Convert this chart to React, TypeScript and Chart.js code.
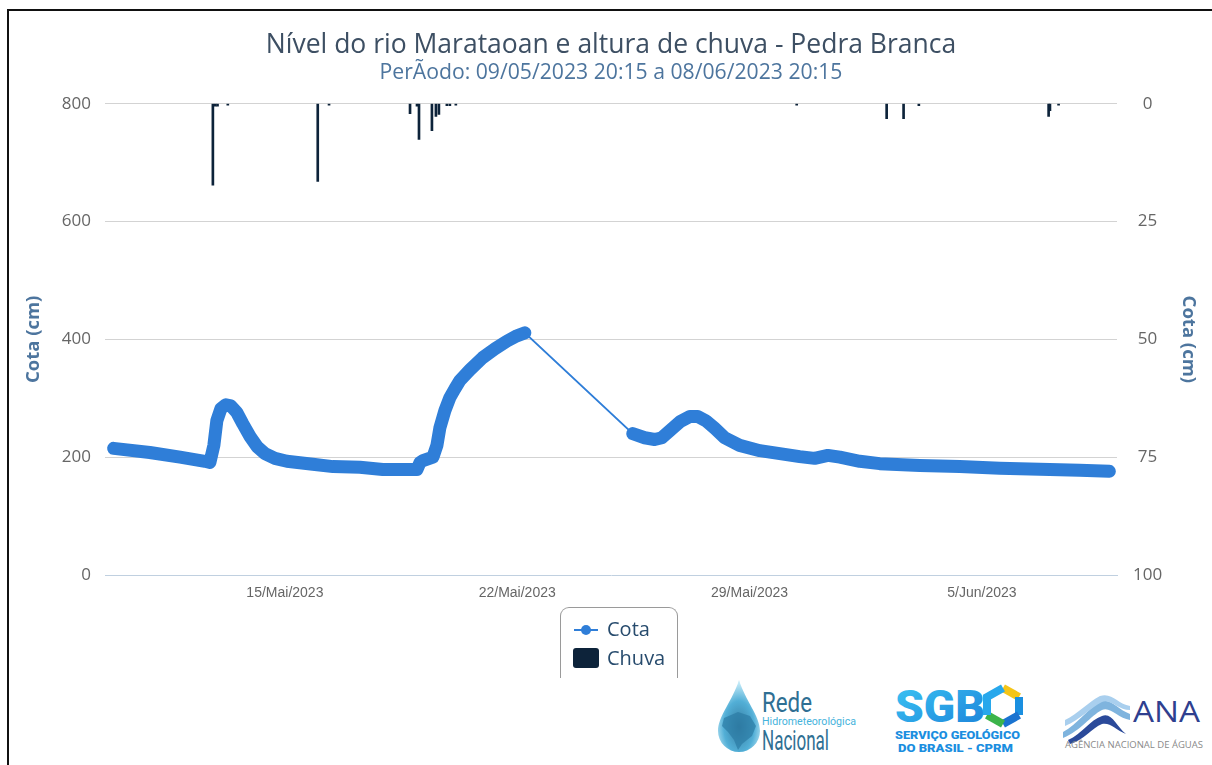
import { useEffect, useRef } from "react";
import { Chart, registerables } from "chart.js";

Chart.register(...registerables);

// Time axis expressed as days counted from 1 May 2023 (so 5 Jun = 36)
const cotaDays = [
  9.84, 10.93, 11.84, 12.59, 12.74, 12.86, 12.95, 13.07, 13.22, 13.37, 13.55, 13.73, 13.95,
  14.16, 14.4, 14.7, 15.06, 15.84, 16.45, 17.26, 17.95, 18.98, 19.07, 19.16, 19.46, 19.58,
  19.67, 19.82, 19.97, 20.12, 20.27, 20.57, 20.96, 21.33, 21.69, 21.99, 22.23,
  25.48, 25.84, 26.14, 26.36, 26.6, 26.9, 27.2, 27.44, 27.68, 27.95, 28.25, 28.7, 29.31,
  30.51, 30.96, 31.36, 31.72, 32.32, 32.92, 34.13, 35.33, 36.54, 38.04, 38.94, 39.84,
];
const cotaValues = [
  215, 208, 200, 193, 191, 220, 262, 282, 289, 287, 276, 257, 235,
  218, 206, 198, 193, 188, 184, 183, 179, 179, 191, 194, 200, 220,
  250, 279, 301, 316, 330, 348, 369, 384, 397, 406, 411,
  240, 233, 230, 233, 245, 260, 269, 269, 262, 249, 233, 220, 211,
  201, 198, 203, 200, 193, 189, 186, 184, 181, 179, 178, 176,
];

const chuvaDays = [
  12.83, 12.9, 12.97, 13.28, 15.99, 16.33, 18.77, 18.98, 19.04, 19.43, 19.55, 19.64,
  19.88, 19.97, 20.15, 30.42, 33.13, 33.64, 34.1, 38.01, 38.05, 38.31,
];
const chuvaValues = [
  17.3, 0.5, 0.5, 0.3, 16.5, 0.3, 2.1, 0.5, 7.6, 5.7, 2.7, 2.3,
  0.4, 0.4, 0.3, 0.3, 3.2, 3.2, 0.4, 2.7, 1.5, 0.3,
];

const xTickDays = [15, 22, 29, 36];
const xTickLabels = ["15/Mai/2023", "22/Mai/2023", "29/Mai/2023", "5/Jun/2023"];
const leftTicks = [0, 200, 400, 600, 800];
const rightTicks = [0, 25, 50, 75, 100];

const titleText = "Nível do rio Marataoan e altura de chuva - Pedra Branca";
const subtitleText = "PerÃodo: 09/05/2023 20:15 a 08/06/2023 20:15";

const COTA_COLOR = "#2f7ed8";
const CHUVA_COLOR = "#0d233a";

function ChartCanvas() {
  const ref = useRef<HTMLCanvasElement | null>(null);
  useEffect(() => {
    if (!ref.current) return;
    const chart = new Chart(ref.current, {
      type: "line",
      data: {
        datasets: [
          {
            type: "line",
            label: "Cota",
            data: cotaDays.map((d, i) => ({ x: d, y: cotaValues[i] })),
            borderColor: COTA_COLOR,
            backgroundColor: COTA_COLOR,
            borderWidth: 13,
            borderCapStyle: "round",
            borderJoinStyle: "round",
            pointRadius: 0,
            tension: 0,
            yAxisID: "y",
            order: 1,
            segment: {
              borderWidth: (ctx: any) => (ctx.p1.parsed.x - ctx.p0.parsed.x > 1.5 ? 2 : 13),
            },
          } as any,
          {
            type: "bar",
            label: "Chuva",
            data: chuvaDays.map((d, i) => ({ x: d, y: chuvaValues[i] })),
            backgroundColor: CHUVA_COLOR,
            barThickness: 2,
            yAxisID: "y2",
            order: 2,
          } as any,
        ],
      },
      options: {
        animation: false,
        responsive: false,
        devicePixelRatio: 1,
        layout: { padding: { left: 10, right: 0, top: 18, bottom: 20 } },
        plugins: {
          legend: { display: false },
          tooltip: { enabled: false },
          title: {
            display: true,
            text: titleText,
            color: "#3d4f63",
            font: { family: "Open Sans", size: 26.5, weight: "normal", lineHeight: 1 },
            padding: { top: 14, bottom: 0 },
          },
          subtitle: {
            display: true,
            text: subtitleText,
            color: "#4d759e",
            font: { family: "Open Sans", size: 21.2, weight: "normal", lineHeight: 1 },
            padding: { top: 4, bottom: 20 },
          },
        },
        scales: {
          x: {
            type: "linear",
            min: 9.58,
            max: 40.07,
            offset: false,
            grid: { display: false, drawTicks: false },
            border: { display: true, color: "#c0d0e0", width: 1 },
            afterBuildTicks: (s: any) => {
              s.ticks = xTickDays.map((v) => ({ value: v }));
            },
            afterFit: (s: any) => {
              s.height = 45;
            },
            ticks: {
              autoSkip: false,
              maxRotation: 0,
              padding: 10,
              color: "#666666",
              font: { family: "Liberation Sans", size: 14 },
              callback: (v: any) => {
                const i = xTickDays.indexOf(Number(v));
                return i >= 0 ? xTickLabels[i] : "";
              },
            },
          },
          y: {
            type: "linear",
            position: "left",
            min: 0,
            max: 800,
            afterBuildTicks: (s: any) => {
              s.ticks = leftTicks.map((v) => ({ value: v }));
            },
            afterFit: (s: any) => {
              s.width = 95;
            },
            grid: {
              color: (ctx: any) => (ctx.tick && ctx.tick.value === 0 ? "rgba(0,0,0,0)" : "#d3d3d3"),
              drawTicks: false,
              lineWidth: 1,
            },
            border: { display: false },
            ticks: {
              padding: 14,
              color: "#666666",
              font: { family: "Open Sans", size: 17 },
            },
            title: {
              display: true,
              text: "Cota (cm)",
              color: "#4d759e",
              font: { family: "Open Sans", size: 18.5, weight: "bold" },
              padding: { top: 13, bottom: 0 },
            },
          },
          y2: {
            type: "linear",
            position: "right",
            reverse: true,
            min: 0,
            max: 100,
            afterBuildTicks: (s: any) => {
              s.ticks = rightTicks.map((v) => ({ value: v }));
            },
            afterFit: (s: any) => {
              s.width = 95;
            },
            grid: { display: false, drawTicks: false },
            border: { display: false },
            ticks: {
              padding: 16,
              crossAlign: "center",
              color: "#666666",
              font: { family: "Open Sans", size: 17 },
            },
            title: {
              display: true,
              text: "Cota (cm)",
              color: "#4d759e",
              font: { family: "Open Sans", size: 18.5, weight: "bold" },
              padding: { top: 13, bottom: 0 },
            },
          },
        },
      } as any,
    });
    return () => chart.destroy();
  }, []);
  return (
    <canvas
      ref={ref}
      width={1212}
      height={640}
      style={{ position: "absolute", left: 0, top: 0, width: 1212, height: 640 }}
    />
  );
}

function Legend() {
  return (
    <div
      style={{
        position: "absolute",
        left: 560,
        top: 607,
        width: 116,
        height: 70,
        border: "1px solid #9a9a9a",
        borderBottom: "none",
        borderRadius: "9px 9px 0 0",
        fontFamily: "Open Sans",
        color: "#274b6d",
        fontSize: 20,
      }}
    >
      <div style={{ position: "absolute", left: 13, top: 21, width: 24, height: 2, background: COTA_COLOR }} />
      <div
        style={{
          position: "absolute",
          left: 20,
          top: 17,
          width: 10,
          height: 10,
          borderRadius: 5,
          background: COTA_COLOR,
        }}
      />
      <div style={{ position: "absolute", left: 46, top: 8, lineHeight: "26px" }}>Cota</div>
      <div
        style={{
          position: "absolute",
          left: 12,
          top: 40,
          width: 26,
          height: 20,
          borderRadius: 3,
          background: CHUVA_COLOR,
        }}
      />
      <div style={{ position: "absolute", left: 46, top: 37, lineHeight: "26px" }}>Chuva</div>
    </div>
  );
}

function Logos() {
  return (
    <>
      <svg width={150} height={82} style={{ position: "absolute", left: 712, top: 678 }}>
        <defs>
          <radialGradient id="dropg" cx="50%" cy="65%" r="60%">
            <stop offset="0" stopColor="#1f6d96" />
            <stop offset="0.6" stopColor="#3fa6d2" />
            <stop offset="1" stopColor="#b9e6f6" />
          </radialGradient>
        </defs>
        <path d="M27 2 C 21 22, 6 38, 6 53 A 21 21 0 0 0 48 53 C 48 38, 33 22, 27 2 Z" fill="url(#dropg)" opacity="0.9" />
        <path d="M12 40 L26 34 L38 38 L44 48 L40 58 L30 66 L26 72 L22 62 L16 54 L10 48 Z" fill="#2b7aa4" opacity="0.7" />
        <text x={50} y={34} fontSize={28} fill="#2f6f93" fontFamily="Roboto" textLength={50} lengthAdjust="spacingAndGlyphs">
          Rede
        </text>
        <text x={50} y={47} fontSize={11} fill="#45b3dc" fontFamily="Roboto" textLength={94} lengthAdjust="spacingAndGlyphs">
          Hidrometeorológica
        </text>
        <text x={50} y={72} fontSize={28} fill="#2f6f93" fontFamily="Roboto" textLength={67} lengthAdjust="spacingAndGlyphs">
          Nacional
        </text>
      </svg>
      <svg width={140} height={80} style={{ position: "absolute", left: 890, top: 680 }}>
        <defs>
          <linearGradient id="sgbg" x1="0" y1="0" x2="1" y2="1">
            <stop offset="0" stopColor="#3cc6f4" />
            <stop offset="1" stopColor="#1a7fd8" />
          </linearGradient>
        </defs>
        <text x={5} y={42} fontSize={44} fontWeight={900} fill="url(#sgbg)" fontFamily="Roboto" textLength={90} lengthAdjust="spacingAndGlyphs">
          SGB
        </text>
        <path d="M113 8 L129 17" stroke="#f5c518" strokeWidth={8} fill="none" />
        <path d="M129 17 L129 35" stroke="#1a8fe0" strokeWidth={8} fill="none" />
        <path d="M129 35 L113 44" stroke="#1a73d0" strokeWidth={8} fill="none" />
        <path d="M113 44 L97 35" stroke="#3cb44a" strokeWidth={8} fill="none" />
        <path d="M97 35 L97 17 L113 8" stroke="#28a8ec" strokeWidth={8} fill="none" />
        <text x={5} y={59} fontSize={11} fontWeight={900} fill="#1a8ee0" fontFamily="Roboto" textLength={125} lengthAdjust="spacingAndGlyphs">
          SERVIÇO GEOLÓGICO
        </text>
        <text x={8} y={72} fontSize={11} fontWeight={900} fill="#1a8ee0" fontFamily="Roboto" textLength={115} lengthAdjust="spacingAndGlyphs">
          DO BRASIL - CPRM
        </text>
      </svg>
      <svg width={150} height={70} style={{ position: "absolute", left: 1060, top: 690 }}>
        <path d="M3 42 C 18 34, 26 20, 40 12 C 50 7, 58 20, 70 24 L70 30 C 58 28, 50 16, 42 20 C 30 26, 22 40, 3 48 Z" fill="#7fb4de" />
        <path d="M5 30 C 18 24, 28 12, 40 6 C 52 2, 58 14, 70 16 L70 20 C 58 20, 50 8, 42 12 C 30 18, 20 30, 5 36 Z" fill="#a9cfee" />
        <path d="M8 50 C 22 44, 30 30, 42 26 C 52 22, 56 36, 66 44 C 56 40, 50 32, 42 34 C 32 38, 24 50, 10 54 Z" fill="#2b4a9a" />
        <text x={73} y={32} fontSize={30} fill="#2f3f8f" fontFamily="Open Sans" textLength={67} lengthAdjust="spacingAndGlyphs">
          ANA
        </text>
        <text x={5} y={58} fontSize={8.5} fill="#8a8a8a" fontFamily="Open Sans" textLength={138} lengthAdjust="spacingAndGlyphs">
          AGÊNCIA NACIONAL DE ÁGUAS
        </text>
      </svg>
    </>
  );
}

export default function App() {
  return (
    <div
      style={{
        position: "absolute",
        left: 0,
        top: 0,
        width: 1212,
        height: 765,
        overflow: "hidden",
        background: "#ffffff",
      }}
    >
      <div
        style={{
          position: "absolute",
          left: 7,
          top: 9,
          width: 1300,
          height: 900,
          borderLeft: "2px solid #111",
          borderTop: "2px solid #111",
        }}
      />
      <ChartCanvas />
      <Legend />
      <Logos />
    </div>
  );
}
